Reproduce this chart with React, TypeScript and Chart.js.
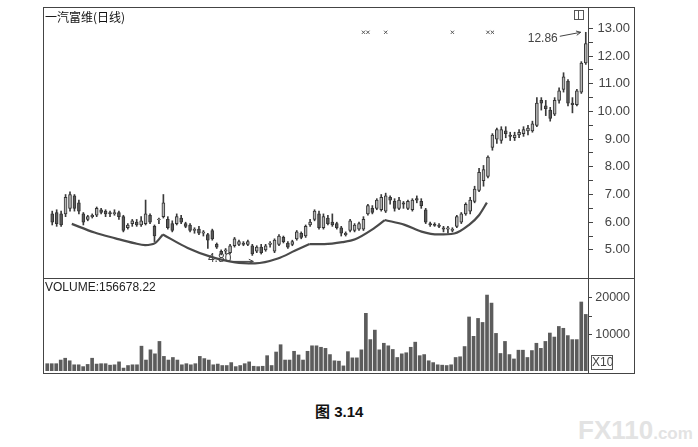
import React, { useEffect, useRef } from "react";
import { Chart, registerables } from "chart.js";

Chart.register(...registerables);

// ---------- data ----------
const opens = [
  6.3, 6.35, 6.3, 6.3, 6.5, 6.95, 6.7, 6.3, 6.1, 6.2,
  6.25, 6.45, 6.4, 6.35, 6.3, 6.35, 6.2, 5.8, 5.95, 6.0,
  5.9, 5.95, 6.25, 5.85, 6.1, 6.2, 6.1, 5.95, 5.95, 6.15,
  5.95, 5.9, 5.7, 5.75, 5.6, 5.55, 5.7, 5.2, 4.95, 4.95,
  4.9, 5.15, 5.2, 5.25, 5.2, 5.15, 4.95, 5.1, 5.0, 5.2,
  4.95, 5.2, 5.45, 5.25, 5.2, 5.4, 5.6, 5.5, 5.9, 6.1,
  6.3, 5.8, 6.15, 6.0, 5.95, 5.8, 5.55, 5.7, 5.7, 5.75,
  5.75, 6.3, 6.5, 6.5, 6.45, 6.4, 6.9, 6.75, 6.5, 6.7,
  6.5, 6.45, 6.85, 6.75, 6.45, 5.95, 5.92, 5.9, 5.8, 5.75,
  5.7, 5.85, 6.0, 6.3, 6.4, 6.75, 7.15, 7.5, 7.65, 8.7,
  9.0, 8.95, 9.3, 9.15, 9.05, 9.15, 9.2, 9.3, 9.3, 9.5,
  10.4, 10.2, 10.05, 9.9, 10.4, 10.8, 11.1, 10.3, 10.25, 10.7,
  11.75,
];
const closes = [
  6.0, 5.95, 5.9, 6.9, 7.0, 6.5, 6.4, 6.0, 6.2, 6.25,
  6.5, 6.35, 6.3, 6.3, 6.35, 6.2, 5.7, 5.9, 6.05, 5.9,
  6.05, 6.3, 6.0, 5.5, 6.1, 6.7, 5.8, 5.7, 6.2, 6.0,
  5.85, 5.7, 5.75, 5.6, 5.65, 5.35, 5.4, 5.1, 4.85, 5.0,
  5.15, 5.4, 5.3, 5.2, 5.3, 4.85, 5.1, 4.9, 5.15, 5.25,
  5.35, 5.5, 5.3, 5.1, 5.3, 5.65, 5.45, 5.85, 6.0, 6.4,
  5.8, 6.2, 5.95, 5.9, 5.8, 5.6, 5.6, 6.05, 5.9, 5.95,
  6.1, 6.6, 6.35, 6.8, 6.9, 6.95, 6.8, 6.5, 6.8, 6.65,
  6.75, 6.8, 6.8, 6.6, 6.0, 5.9, 5.88, 5.85, 5.75, 5.8,
  5.75, 6.2, 6.3, 6.65, 6.8, 7.2, 7.8, 7.9, 8.35, 9.15,
  9.35, 9.35, 9.2, 9.1, 9.15, 9.25, 9.35, 9.4, 9.55, 10.3,
  10.3, 10.1, 9.75, 10.4, 10.75, 11.25, 10.3, 10.25, 10.75, 11.75,
  12.45,
];
const highs = [
  6.4, 6.45, 6.4, 7.0, 7.1, 7.0, 6.8, 6.35, 6.25, 6.3,
  6.55, 6.5, 6.45, 6.4, 6.45, 6.4, 6.25, 5.95, 6.1, 6.1,
  6.2, 6.8, 6.3, 5.9, 6.15, 7.0, 6.2, 6.05, 6.3, 6.25,
  6.0, 5.95, 5.8, 5.85, 5.7, 5.6, 5.75, 5.25, 5.0, 5.05,
  5.2, 5.45, 5.35, 5.3, 5.35, 5.2, 5.15, 5.2, 5.2, 5.3,
  5.4, 5.55, 5.5, 5.3, 5.35, 5.7, 5.65, 5.9, 6.1, 6.45,
  6.4, 6.3, 6.25, 6.3, 6.0, 5.85, 5.65, 6.1, 5.95, 6.0,
  6.2, 6.65, 6.6, 6.85, 7.0, 7.05, 6.95, 6.85, 6.9, 6.75,
  6.8, 6.85, 6.95, 6.85, 6.5, 6.0, 5.98, 5.95, 5.85, 5.85,
  5.8, 6.25, 6.35, 6.7, 6.9, 7.3, 7.95, 8.05, 8.4, 9.2,
  9.4, 9.45, 9.45, 9.25, 9.25, 9.35, 9.45, 9.5, 9.65, 10.5,
  10.5, 10.4, 10.15, 10.5, 10.85, 11.4, 11.15, 10.5, 10.8, 11.8,
  12.86,
];
const lows = [
  5.9, 5.85, 5.85, 6.2, 6.4, 6.4, 6.3, 5.9, 6.05, 6.15,
  6.2, 6.3, 6.2, 6.2, 6.25, 6.1, 5.65, 5.75, 5.85, 5.85,
  5.85, 5.9, 5.95, 5.3, 5.95, 6.15, 5.75, 5.65, 5.9, 5.95,
  5.8, 5.65, 5.6, 5.55, 5.5, 5.05, 5.35, 5.05, 4.82, 4.85,
  4.85, 5.1, 5.15, 5.15, 5.15, 4.8, 4.9, 4.85, 4.95, 5.1,
  4.9, 5.15, 5.25, 5.05, 5.15, 5.35, 5.4, 5.45, 5.85, 6.05,
  5.75, 5.75, 5.9, 5.85, 5.75, 5.5, 5.5, 5.65, 5.65, 5.7,
  5.7, 6.25, 6.3, 6.45, 6.4, 6.35, 6.65, 6.4, 6.45, 6.5,
  6.45, 6.4, 6.7, 6.5, 5.95, 5.85, 5.85, 5.8, 5.65, 5.6,
  5.65, 5.8, 5.95, 6.25, 6.3, 6.7, 7.1, 7.3, 7.6, 8.6,
  8.85, 8.85, 9.05, 8.95, 8.95, 9.05, 9.1, 9.15, 9.25, 9.45,
  10.05, 9.85, 9.65, 9.85, 10.3, 10.7, 10.2, 9.95, 10.2, 10.65,
  11.7,
];
const volumes = [
  2000, 2000, 2000, 3000, 3500, 2800, 1700, 1700, 1200, 1800,
  3500, 1900, 2000, 2000, 1600, 1700, 2500, 800, 1500, 1700,
  1700, 6800, 3000, 5800, 4700, 8100, 4000, 3000, 3700, 3000,
  1700, 2000, 1700, 2000, 4000, 3400, 3000, 1700, 1900, 1500,
  1500, 2300, 1200, 1500, 2000, 2500, 1300, 1200, 1300, 4200,
  1500, 5200, 7200, 3000, 3000, 5400, 4400, 3000, 5400, 6900,
  6900, 6500, 6200, 4500, 2800, 2700, 1400, 5300, 3600, 3600,
  5800, 15800, 8600, 11200, 5800, 7600, 6900, 5900, 3700, 4700,
  5000, 6500, 7900, 4200, 4500, 2800, 2300, 1700, 1600, 1500,
  1700, 3700, 3900, 6700, 14800, 9500, 14400, 13300, 20800, 18600,
  10300, 4800, 8100, 4500, 3300, 5700, 5700, 3700, 5600, 7600,
  6200, 8100, 10400, 9300, 12200, 11700, 9700, 8600, 8600, 18900,
  15500,
];

const priceTicks = [5, 5.5, 6, 6.5, 7, 7.5, 8, 8.5, 9, 9.5, 10, 10.5, 11, 11.5, 12, 12.5, 13];
const volumeTicks = [10000, 15000, 20000];
const priceMin = 4.165;
const priceMax = 13.557;
const volumeMax = 25200;

// hand-drawn arcs, [day index, price]
const arc1 = [[4.4, 5.939], [9.53, 5.626], [14.21, 5.417], [18.44, 5.243], [20.89, 5.174], [23.12, 5.243], [24.9, 5.557]];
const arc2 = [[24.9, 5.557], [30.47, 5.07], [35.59, 4.757], [41.16, 4.548], [45.62, 4.513], [50.75, 4.687], [54.53, 4.965], [57.88, 5.209]];
const arc3 = [[57.88, 5.209], [61.22, 5.209], [65.23, 5.278], [68.13, 5.383], [71.92, 5.73], [74.81, 6.078]];
const arc4 = [[74.81, 6.078], [79.27, 5.904], [83.06, 5.661], [86.85, 5.557], [90.41, 5.591], [93.75, 5.904], [95.98, 6.252], [97.76, 6.704]];

const markerDays = [70, 71, 75, 90, 98, 99];
const markerLevel = 12.86;

const titleText = "一汽富维(日线)";
const volumeText = "VOLUME:156678.22";
const captionText = "图 3.14";

const axisFont = "'Liberation Sans', Arial, sans-serif";

function drawArrow(ctx: CanvasRenderingContext2D, x1: number, y1: number, x2: number, y2: number) {
  ctx.beginPath();
  ctx.moveTo(x1, y1);
  ctx.lineTo(x2, y2);
  const a = Math.atan2(y2 - y1, x2 - x1);
  const L = 5;
  ctx.moveTo(x2, y2);
  ctx.lineTo(x2 - L * Math.cos(a - 0.45), y2 - L * Math.sin(a - 0.45));
  ctx.moveTo(x2, y2);
  ctx.lineTo(x2 - L * Math.cos(a + 0.45), y2 - L * Math.sin(a + 0.45));
  ctx.stroke();
}

const extremesPlugin = {
  id: "extremes",
  afterDatasetsDraw(chart: any) {
    const ctx = chart.ctx as CanvasRenderingContext2D;
    const xs = chart.scales.x;
    const ys = chart.scales.y;
    let hi = 0;
    highs.forEach((v, i) => { if (v > highs[hi]) hi = i; });
    let lo = 0;
    lows.forEach((v, i) => { if (v < lows[lo]) lo = i; });
    ctx.save();
    ctx.strokeStyle = "#444";
    ctx.fillStyle = "#444";
    ctx.lineWidth = 1;
    ctx.font = `12px ${axisFont}`;
    ctx.textAlign = "right";
    ctx.textBaseline = "middle";
    const hx = xs.getPixelForValue(hi);
    const hy = ys.getPixelForValue(highs[hi]);
    drawArrow(ctx, hx - 26, hy + 4, hx - 5, hy);
    ctx.fillText(highs[hi].toFixed(2), hx - 28, hy + 6);
    const lx = xs.getPixelForValue(lo);
    const ly = ys.getPixelForValue(lows[lo]);
    drawArrow(ctx, lx - 19, ly + 6, lx + 1, ly + 6);
    ctx.fillText(lows[lo].toFixed(2), lx - 21, ly + 3);
    ctx.restore();
  },
};

const isWhole = (v: number) => Math.abs(v - Math.round(v)) < 1e-6;

export default function App() {
  const priceRef = useRef<HTMLCanvasElement>(null);
  const volRef = useRef<HTMLCanvasElement>(null);

  useEffect(() => {
    const n = opens.length;
    const idx = opens.map((_, i) => i);
    const wickData = idx.map((i) => ({ x: i, y: [lows[i], highs[i]] }));
    const bodyData = idx.map((i) => {
      const lo = Math.min(opens[i], closes[i]);
      const hi = Math.max(opens[i], closes[i]);
      return { x: i, y: hi - lo < 0.025 ? [lo - 0.012, lo + 0.013] : [lo, hi] };
    });
    const bodyFill = idx.map((i) => (closes[i] >= opens[i] ? "#b4b4b4" : "#5a5a5a"));
    const arcSet = (pts: number[][]) => ({
      type: "line" as const,
      data: pts.map((p) => ({ x: p[0], y: p[1] })),
      borderColor: "#4a4a4a",
      borderWidth: 2.2,
      pointRadius: 0,
      cubicInterpolationMode: "monotone" as const,
      fill: false,
    });

    const priceChart = new Chart(priceRef.current!, {
      type: "bar",
      data: {
        datasets: [
          {
            type: "bar",
            data: wickData as any,
            backgroundColor: "#3a3a3a",
            barThickness: 1,
            grouped: false,
            order: 3,
          } as any,
          {
            type: "bar",
            data: bodyData as any,
            backgroundColor: bodyFill,
            borderColor: "#333",
            borderWidth: 1,
            borderSkipped: false,
            barThickness: 3,
            grouped: false,
            order: 2,
          } as any,
          arcSet(arc1) as any,
          arcSet(arc2) as any,
          arcSet(arc3) as any,
          arcSet(arc4) as any,
          {
            type: "line",
            data: markerDays.map((d) => ({ x: d, y: markerLevel })),
            showLine: false,
            pointStyle: "crossRot",
            pointRadius: 2.3,
            borderColor: "#555",
            borderWidth: 1,
          } as any,
        ],
      },
      options: {
        animation: false,
        responsive: false,
        maintainAspectRatio: false,
        events: [],
        layout: { padding: 0 },
        plugins: { legend: { display: false }, tooltip: { enabled: false } },
        scales: {
          x: { type: "linear", min: -0.5, max: n - 0.5, offset: false, display: false },
          y: {
            position: "right",
            min: priceMin,
            max: priceMax,
            afterFit: (s: any) => { s.width = 42; s.paddingTop = 0; s.paddingBottom = 0; },
            afterBuildTicks: (s: any) => { s.ticks = priceTicks.map((v) => ({ value: v })); },
            border: { display: false },
            grid: { drawOnChartArea: false, drawTicks: true, tickLength: 5, color: "#444" },
            ticks: {
              autoSkip: false,
              crossAlign: "far",
              padding: 4,
              color: "#444",
              font: { family: axisFont, size: 13 },
              callback: (v: any) => (isWhole(Number(v)) ? Number(v).toFixed(2) : ""),
            },
          },
        },
      } as any,
      plugins: [extremesPlugin],
    });

    const volChart = new Chart(volRef.current!, {
      type: "bar",
      data: {
        datasets: [
          {
            data: volumes.map((v, i) => ({ x: i, y: v })) as any,
            backgroundColor: "#5c5c5c",
            borderColor: "#3a3a3a",
            borderWidth: 0,
            barThickness: 3,
            grouped: false,
          } as any,
        ],
      },
      options: {
        animation: false,
        responsive: false,
        maintainAspectRatio: false,
        events: [],
        layout: { padding: 0 },
        plugins: { legend: { display: false }, tooltip: { enabled: false } },
        scales: {
          x: { type: "linear", min: -0.5, max: n - 0.5, offset: false, display: false },
          y: {
            position: "right",
            min: 0,
            max: volumeMax,
            afterFit: (s: any) => { s.width = 42; s.paddingTop = 0; s.paddingBottom = 0; },
            afterBuildTicks: (s: any) => { s.ticks = volumeTicks.map((v) => ({ value: v })); },
            border: { display: false },
            grid: { drawOnChartArea: false, drawTicks: true, tickLength: 4, color: "#444" },
            ticks: {
              autoSkip: false,
              crossAlign: "far",
              padding: 1,
              color: "#444",
              font: { family: axisFont, size: 12.5 },
              callback: (v: any) => (Number(v) % 10000 === 0 ? String(v) : ""),
            },
          },
        },
      } as any,
    });

    return () => {
      priceChart.destroy();
      volChart.destroy();
    };
  }, []);

  const line = "#444";
  return (
    <div style={{ position: "absolute", left: 0, top: 0, width: 698, height: 447, background: "#fff", overflow: "hidden" }}>
      <canvas ref={priceRef} width={585} height={270} style={{ position: "absolute", left: 45, top: 8, width: 585, height: 270 }} />
      <canvas ref={volRef} width={585} height={92} style={{ position: "absolute", left: 45, top: 279, width: 585, height: 92 }} />
      {/* frames */}
      <div style={{ position: "absolute", left: 43, top: 7, width: 590, height: 365, border: `1px solid ${line}`, pointerEvents: "none" }} />
      <div style={{ position: "absolute", left: 43, top: 278, width: 592, height: 1, background: line }} />
      <div style={{ position: "absolute", left: 588, top: 7, width: 1, height: 367, background: line }} />
      {/* panel icon */}
      <div style={{ position: "absolute", left: 574, top: 10, width: 8, height: 8, border: "1px solid #555" }}>
        <div style={{ position: "absolute", left: 3, top: 0, width: 1, height: 8, background: "#555" }} />
      </div>
      {/* x10 box */}
      <div style={{ position: "absolute", left: 591, top: 355, width: 20, height: 13, border: "1px solid #555", font: `12px ${axisFont}`, color: "#444", lineHeight: "13px", textAlign: "center" }}>X10</div>
      {/* texts */}
      <div style={{ position: "absolute", left: 45, top: 11, font: "12px 'Noto Sans CJK SC', sans-serif", lineHeight: "12px", color: "#111", whiteSpace: "nowrap" }}>{titleText}</div>
      <div style={{ position: "absolute", left: 45, top: 281, font: `12px ${axisFont}`, lineHeight: "12px", color: "#222", whiteSpace: "nowrap" }}>{volumeText}</div>
      <div style={{ position: "absolute", left: 315, top: 404, font: `bold 15px 'Liberation Sans', Arial, 'Noto Sans CJK SC', sans-serif`, lineHeight: "15px", color: "#111", whiteSpace: "nowrap" }}>{captionText}</div>
      <div style={{ position: "absolute", left: 578, top: 416, color: "#e3e3e3", whiteSpace: "nowrap", font: `bold 26px ${axisFont}`, lineHeight: "28px" }}>
        FX110<span style={{ fontSize: 17 }}>.com</span>
      </div>
    </div>
  );
}
